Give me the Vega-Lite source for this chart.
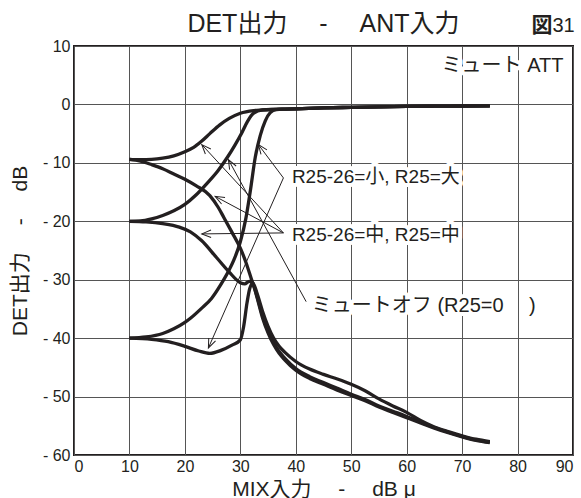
{
  "$schema": "https://vega.github.io/schema/vega-lite/v6.json",
  "width": 499,
  "height": 409,
  "autosize": {"type": "none"},
  "padding": {"left": 74, "top": 46, "right": 8, "bottom": 43},
  "background": "white",
  "config": {
    "font": "Liberation Sans, Noto Sans CJK JP, sans-serif",
    "view": {"stroke": "#231f20", "strokeWidth": 2},
    "axis": {
      "domain": false,
      "ticks": false,
      "grid": true,
      "gridColor": "#555555",
      "gridWidth": 1,
      "labelFont": "Liberation Sans, Noto Sans CJK JP, sans-serif",
      "labelFontSize": 16,
      "labelColor": "#231f20",
      "titleFont": "Liberation Sans, Noto Sans CJK JP, sans-serif",
      "titleFontSize": 21,
      "titleFontWeight": "normal",
      "titleColor": "#231f20"
    }
  },
  "datasets": {
    "curves": [
      {"s":"A","x":10,"y":-9.4},{"s":"A","x":12,"y":-9.45},{"s":"A","x":14,"y":-9.4},{"s":"A","x":16,"y":-9.2},{"s":"A","x":18,"y":-8.8},{"s":"A","x":20,"y":-8.1},{"s":"A","x":21.5,"y":-7.4},{"s":"A","x":23,"y":-6.3},{"s":"A","x":24.5,"y":-5.0},{"s":"A","x":26.3,"y":-3.5},{"s":"A","x":28,"y":-2.4},{"s":"A","x":30,"y":-1.5},{"s":"A","x":32.4,"y":-1.05},{"s":"A","x":34,"y":-0.95},{"s":"A","x":36,"y":-0.85},{"s":"A","x":38,"y":-0.8},{"s":"A","x":40,"y":-0.75},{"s":"A","x":45,"y":-0.6},{"s":"A","x":50,"y":-0.5},{"s":"A","x":55,"y":-0.42},{"s":"A","x":60,"y":-0.35},{"s":"A","x":65,"y":-0.3},{"s":"A","x":70,"y":-0.27},{"s":"A","x":75,"y":-0.25},
      {"s":"B","x":10,"y":-20},{"s":"B","x":12,"y":-19.95},{"s":"B","x":14,"y":-19.6},{"s":"B","x":16,"y":-19.0},{"s":"B","x":18,"y":-18.2},{"s":"B","x":20,"y":-17.1},{"s":"B","x":22,"y":-15.5},{"s":"B","x":24,"y":-13.5},{"s":"B","x":26,"y":-11.3},{"s":"B","x":27.7,"y":-9.0},{"s":"B","x":29,"y":-7.0},{"s":"B","x":30.3,"y":-4.8},{"s":"B","x":31.3,"y":-2.9},{"s":"B","x":32.4,"y":-1.5},{"s":"B","x":34,"y":-0.95},{"s":"B","x":36,"y":-0.85},{"s":"B","x":38,"y":-0.8},{"s":"B","x":40,"y":-0.75},{"s":"B","x":45,"y":-0.6},{"s":"B","x":50,"y":-0.5},{"s":"B","x":55,"y":-0.42},{"s":"B","x":60,"y":-0.35},{"s":"B","x":65,"y":-0.3},{"s":"B","x":70,"y":-0.27},{"s":"B","x":75,"y":-0.25},
      {"s":"F","x":10,"y":-40},{"s":"F","x":13,"y":-39.8},{"s":"F","x":16,"y":-39.2},{"s":"F","x":18,"y":-38.4},{"s":"F","x":20,"y":-37.3},{"s":"F","x":21,"y":-36.6},{"s":"F","x":23,"y":-34.9},{"s":"F","x":24.8,"y":-33.2},{"s":"F","x":26.5,"y":-30.8},{"s":"F","x":28,"y":-28.3},{"s":"F","x":28.8,"y":-26.7},{"s":"F","x":30,"y":-23.5},{"s":"F","x":31,"y":-19.5},{"s":"F","x":31.8,"y":-14.8},{"s":"F","x":32.7,"y":-9.0},{"s":"F","x":33.6,"y":-5.3},{"s":"F","x":34.5,"y":-2.8},{"s":"F","x":35.4,"y":-1.4},{"s":"F","x":36.5,"y":-0.9},{"s":"F","x":38,"y":-0.8},{"s":"F","x":40,"y":-0.75},{"s":"F","x":45,"y":-0.6},{"s":"F","x":50,"y":-0.5},{"s":"F","x":55,"y":-0.42},{"s":"F","x":60,"y":-0.35},{"s":"F","x":65,"y":-0.3},{"s":"F","x":70,"y":-0.27},{"s":"F","x":75,"y":-0.25},
      {"s":"D","x":10,"y":-9.4},{"s":"D","x":12,"y":-9.7},{"s":"D","x":14,"y":-10.3},{"s":"D","x":16,"y":-11.0},{"s":"D","x":18,"y":-11.9},{"s":"D","x":20,"y":-12.8},{"s":"D","x":22,"y":-13.9},{"s":"D","x":24.5,"y":-15.6},{"s":"D","x":26,"y":-17.6},{"s":"D","x":27,"y":-19.3},{"s":"D","x":28.5,"y":-21.9},{"s":"D","x":30,"y":-24.6},{"s":"D","x":31,"y":-27.0},{"s":"D","x":32.1,"y":-30.2},{"s":"D","x":33,"y":-32.8},{"s":"D","x":34,"y":-36.2},{"s":"D","x":35,"y":-38.8},{"s":"D","x":36,"y":-40.8},{"s":"D","x":37,"y":-42.3},{"s":"D","x":38,"y":-43.4},{"s":"D","x":40,"y":-45.2},{"s":"D","x":42.5,"y":-46.6},{"s":"D","x":45,"y":-47.6},{"s":"D","x":47.5,"y":-48.6},{"s":"D","x":50,"y":-49.6},{"s":"D","x":52.5,"y":-50.5},{"s":"D","x":55,"y":-51.6},{"s":"D","x":57.5,"y":-52.5},{"s":"D","x":60,"y":-53.4},{"s":"D","x":62.5,"y":-54.4},{"s":"D","x":65,"y":-55.3},{"s":"D","x":67.5,"y":-56.1},{"s":"D","x":70,"y":-56.8},{"s":"D","x":72.5,"y":-57.4},{"s":"D","x":75,"y":-57.8},
      {"s":"E","x":10,"y":-20},{"s":"E","x":13,"y":-20.1},{"s":"E","x":16,"y":-20.4},{"s":"E","x":19,"y":-21.0},{"s":"E","x":21,"y":-21.8},{"s":"E","x":23,"y":-23.3},{"s":"E","x":25.7,"y":-26.2},{"s":"E","x":28,"y":-28.7},{"s":"E","x":30,"y":-30.5},{"s":"E","x":30.8,"y":-30.7},{"s":"E","x":31.6,"y":-30.3},{"s":"E","x":32.3,"y":-30.8},{"s":"E","x":33,"y":-33.0},{"s":"E","x":34,"y":-36.5},{"s":"E","x":35,"y":-39.1},{"s":"E","x":36,"y":-41.1},{"s":"E","x":37,"y":-42.6},{"s":"E","x":38,"y":-43.7},{"s":"E","x":40,"y":-45.5},{"s":"E","x":42.5,"y":-46.9},{"s":"E","x":45,"y":-47.9},{"s":"E","x":47.5,"y":-48.9},{"s":"E","x":50,"y":-49.8},{"s":"E","x":52.5,"y":-50.7},{"s":"E","x":55,"y":-51.8},{"s":"E","x":57.5,"y":-52.7},{"s":"E","x":60,"y":-53.6},{"s":"E","x":62.5,"y":-54.5},{"s":"E","x":65,"y":-55.4},{"s":"E","x":67.5,"y":-56.2},{"s":"E","x":70,"y":-56.9},{"s":"E","x":72.5,"y":-57.5},{"s":"E","x":75,"y":-57.9},
      {"s":"G","x":10,"y":-40},{"s":"G","x":14,"y":-40.2},{"s":"G","x":17,"y":-40.6},{"s":"G","x":20,"y":-41.4},{"s":"G","x":22.5,"y":-42.2},{"s":"G","x":24.5,"y":-42.6},{"s":"G","x":26.5,"y":-42.1},{"s":"G","x":28.5,"y":-41.2},{"s":"G","x":30,"y":-40.3},{"s":"G","x":30.6,"y":-38.0},{"s":"G","x":31.2,"y":-34.0},{"s":"G","x":31.7,"y":-31.5},{"s":"G","x":32.3,"y":-30.6},{"s":"G","x":33,"y":-32.3},{"s":"G","x":34,"y":-35.4},{"s":"G","x":35,"y":-38.0},{"s":"G","x":36,"y":-40.0},{"s":"G","x":37,"y":-41.4},{"s":"G","x":38,"y":-42.4},{"s":"G","x":40,"y":-44.0},{"s":"G","x":42.5,"y":-45.3},{"s":"G","x":45,"y":-46.2},{"s":"G","x":47.5,"y":-47.0},{"s":"G","x":50,"y":-47.9},{"s":"G","x":52.5,"y":-49.0},{"s":"G","x":55,"y":-50.4},{"s":"G","x":57.5,"y":-51.6},{"s":"G","x":60,"y":-52.7},{"s":"G","x":62.5,"y":-54.1},{"s":"G","x":65,"y":-55.2},{"s":"G","x":67.5,"y":-56.0},{"s":"G","x":70,"y":-56.7},{"s":"G","x":72.5,"y":-57.3},{"s":"G","x":75,"y":-57.7}
    ],
    "arrows": [
      {"x":37.77,"y":-12.58,"x2":33.26,"y2":-6.88},
      {"x":37.77,"y":-12.58,"x2":24.24,"y2":-41.67},
      {"x":37.77,"y":-21.99,"x2":23.05,"y2":-6.88},
      {"x":37.77,"y":-21.99,"x2":25.45,"y2":-15.73},
      {"x":37.77,"y":-21.99,"x2":23.05,"y2":-22.16},
      {"x":41.87,"y":-33.75,"x2":27.85,"y2":-9.45}
    ],
    "labels": [
      {"t":"ミュート ATT","x":66.3,"y":6.6},
      {"t":"R25-26=小, R25=大","x":39.3,"y":-12.5},
      {"t":"R25-26=中, R25=中","x":39.3,"y":-22.3},
      {"t":"ミュートオフ (R25=0　 )","x":42.9,"y":-34.5}
    ],
    "heading": [
      {"t":"DET出力　  -　 ANT入力","x":45.0,"y":12.4}
    ],
    "fig": [
      {"t":"図","x":82.5,"y":12.4},
      {"t":"31","x":86.3,"y":12.4}
    ]
  },
  "encoding": {
    "x": {
      "field": "x", "type": "quantitative",
      "scale": {"domain": [0, 90], "nice": false, "zero": false},
      "axis": {"values": [0,10,20,30,40,50,60,70,80,90], "title": "MIX入力　 -　 dB μ", "labelPadding": 3, "titlePadding": 4}
    },
    "y": {
      "field": "y", "type": "quantitative",
      "scale": {"domain": [-60, 10], "nice": false, "zero": false},
      "axis": {"values": [-60,-50,-40,-30,-20,-10,0,10], "title": "DET出力　 -　 dB", "labelPadding": 4, "titlePadding": 12,
               "labelExpr": "datum.value < 0 ? '- ' + abs(datum.value) : datum.label"}
    }
  },
  "layer": [
    {
      "data": {"name": "labels"},
      "mark": {"type": "text", "align": "left", "baseline": "middle", "fill": "white", "stroke": "white", "strokeWidth": 8, "strokeJoin": "round"},
      "encoding": {
        "text": {"field": "t"},
        "size": {"condition": {"test": "indexof(datum.t, 'ミュート') == 0", "value": 20}, "value": 19}
      }
    },
    {
      "data": {"name": "curves"},
      "mark": {"type": "line", "interpolate": "monotone", "color": "#231f20", "strokeWidth": 3.3, "clip": true},
      "encoding": {"detail": {"field": "s"}}
    },
    {
      "data": {"name": "arrows"},
      "mark": {"type": "rule", "color": "#231f20", "strokeWidth": 1},
      "encoding": {"x2": {"field": "x2"}, "y2": {"field": "y2"}}
    },
    {
      "data": {"name": "arrows"},
      "transform": [
        {"calculate": "atan2((datum.x2 - datum.x) * 5.541, (datum.y2 - datum.y) * 5.843) * 180 / PI", "as": "ang"}
      ],
      "mark": {"type": "point", "shape": "M -0.4 1 L 0 0 L 0.4 1", "filled": false, "size": 345, "stroke": "#231f20", "strokeWidth": 1, "opacity": 1},
      "encoding": {
        "x": {"field": "x2", "type": "quantitative"},
        "y": {"field": "y2", "type": "quantitative"},
        "angle": {"field": "ang", "type": "quantitative", "scale": null}
      }
    },
    {
      "data": {"name": "labels"},
      "mark": {"type": "text", "align": "left", "baseline": "middle", "color": "#231f20"},
      "encoding": {
        "text": {"field": "t"},
        "size": {"condition": {"test": "indexof(datum.t, 'ミュート') == 0", "value": 20}, "value": 19}
      }
    },
    {
      "data": {"name": "heading"},
      "mark": {"type": "text", "align": "center", "baseline": "alphabetic", "fontSize": 25, "color": "#231f20"},
      "encoding": {"text": {"field": "t"}}
    },
    {
      "data": {"name": "fig"},
      "transform": [{"filter": "datum.t == '図'"}],
      "mark": {"type": "text", "align": "left", "baseline": "alphabetic", "fontSize": 21, "fontWeight": "bold", "color": "#231f20"},
      "encoding": {"text": {"field": "t"}}
    },
    {
      "data": {"name": "fig"},
      "transform": [{"filter": "datum.t != '図'"}],
      "mark": {"type": "text", "align": "left", "baseline": "alphabetic", "fontSize": 20, "color": "#231f20"},
      "encoding": {"text": {"field": "t"}}
    }
  ]
}
